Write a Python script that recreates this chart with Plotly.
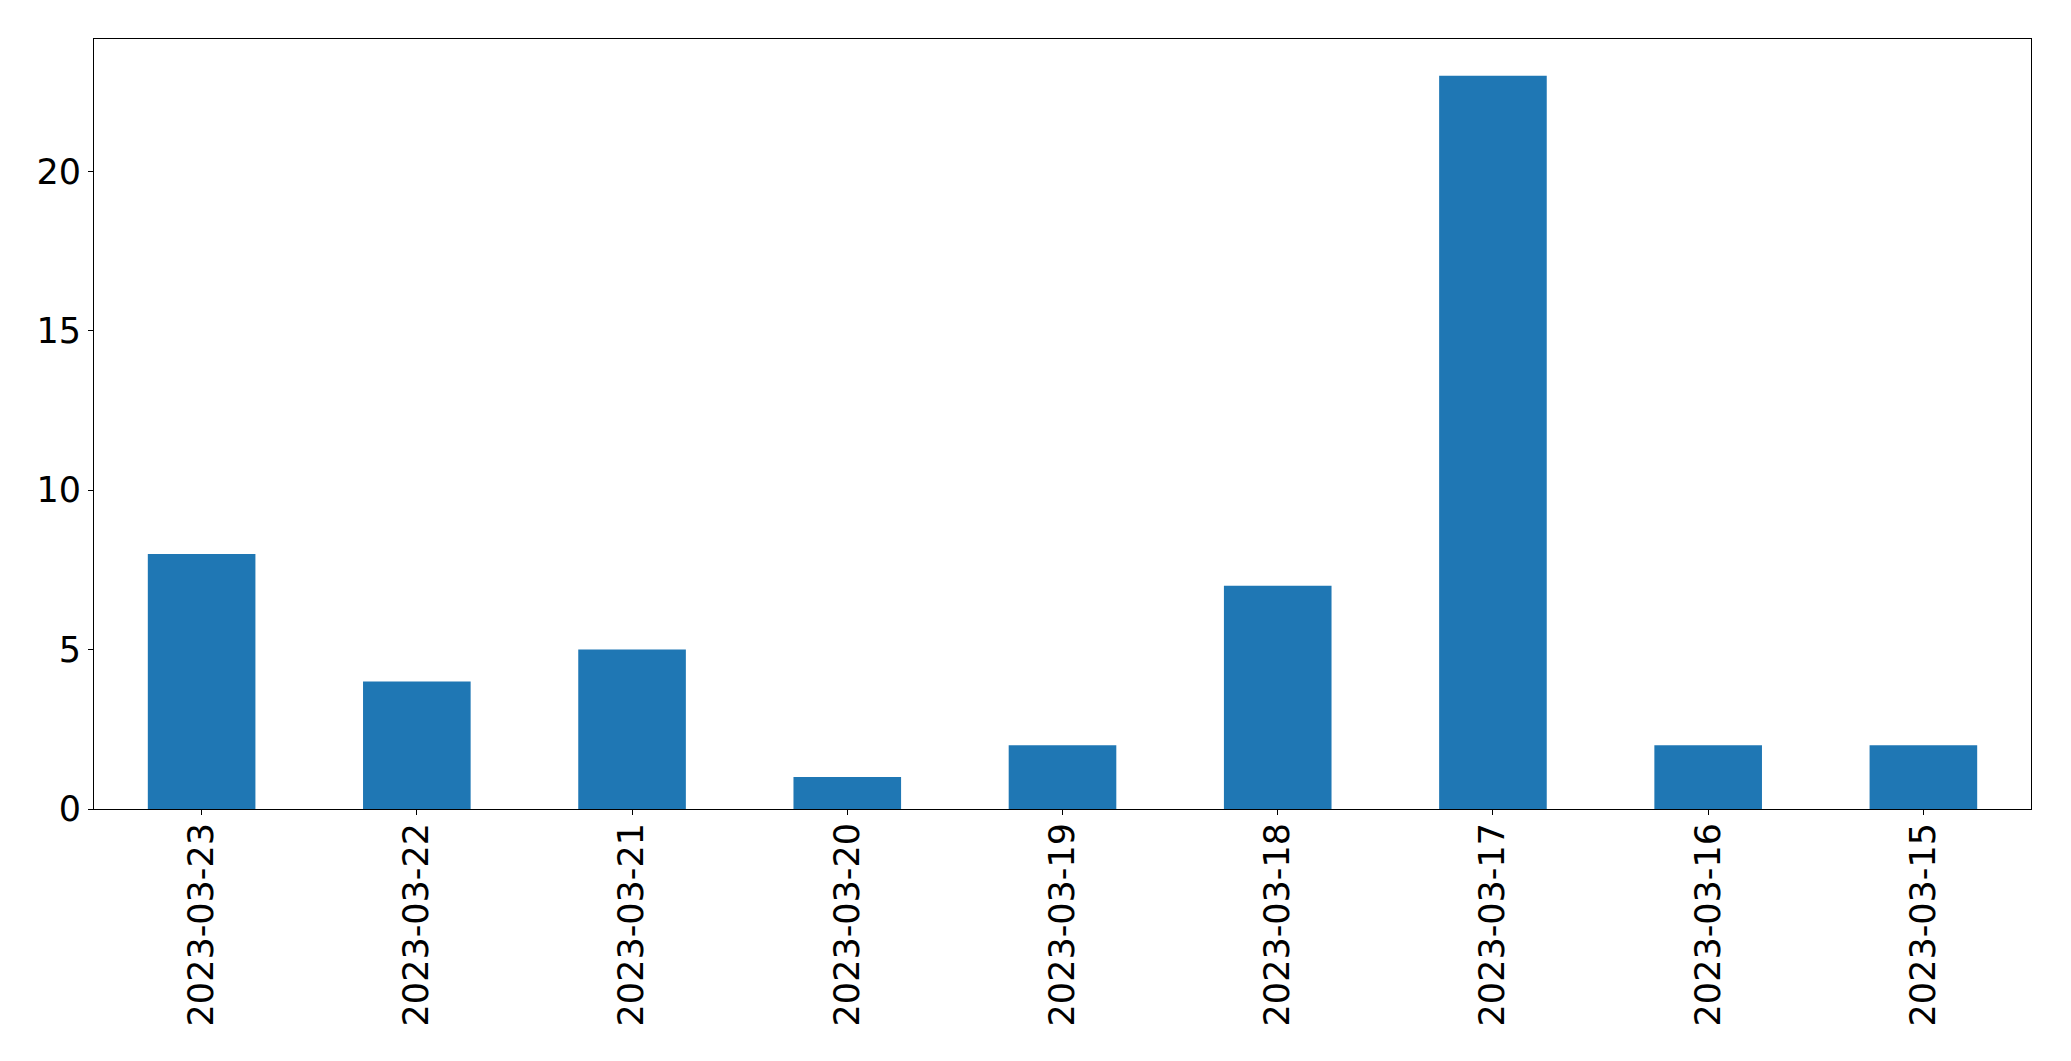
import plotly.graph_objects as go

dates = ["2023-03-23", "2023-03-22", "2023-03-21", "2023-03-20", "2023-03-19",
         "2023-03-18", "2023-03-17", "2023-03-16", "2023-03-15"]
counts = [8, 4, 5, 1, 2, 7, 23, 2, 2]
y_ticks = [0, 5, 10, 15, 20]

fig = go.Figure(go.Bar(x=dates, y=counts, width=0.5, marker_color="#1f77b4",
                       marker_line_width=0))

fig.update_layout(
    width=2071, height=1061,
    margin=dict(l=86, r=48, t=31, b=260, pad=0),
    plot_bgcolor="white", paper_bgcolor="white",
    font=dict(family="DejaVu Sans", color="black"),
    showlegend=False,
)
fig.update_xaxes(
    type="category", range=[-0.5, 8.5], tickangle=-90,
    tickfont=dict(size=35), ticks="outside", ticklen=5, tickwidth=1,
    tickcolor="black", showline=True, linecolor="black", linewidth=1,
    mirror=True, showgrid=False, zeroline=False, ticklabelstandoff=-6,
)
fig.update_yaxes(
    range=[0, 24.15], tickvals=y_ticks, tickfont=dict(size=35),
    ticks="outside", ticklen=5, tickwidth=1, tickcolor="black",
    showline=True, linecolor="black", linewidth=1, mirror=True,
    showgrid=False, zeroline=False,
)

fig.write_html("out.html")
